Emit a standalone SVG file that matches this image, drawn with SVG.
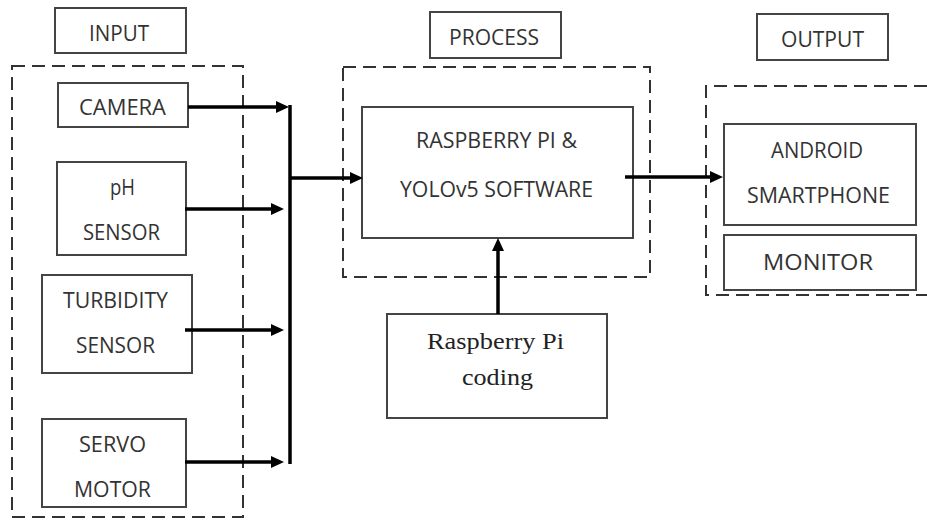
<svg xmlns="http://www.w3.org/2000/svg" width="927" height="520" viewBox="0 0 927 520">
<defs>
<marker id="ah" markerUnits="userSpaceOnUse" markerWidth="13" markerHeight="12" refX="4" refY="6" orient="auto">
<path d="M0,0 L13,6 L0,12 z" fill="#000"/>
</marker>
<style>
.box{fill:#fff;stroke:#444;stroke-width:2}
.dash{fill:none;stroke:#333;stroke-width:2;stroke-dasharray:13 7}
.t{font-family:"Open Sans","Liberation Sans",sans-serif;font-size:21px;fill:#333;text-anchor:middle}
.s{font-family:"Liberation Serif","DejaVu Serif",serif;font-size:23px;fill:#222;text-anchor:middle}
.c{stroke:#000;stroke-width:3.5;fill:none}
</style>
</defs>
<rect width="927" height="520" fill="#fff"/>
<g id="input-group">
<rect class="dash" x="12" y="66" width="231" height="451"/>
<g id="input-label"><rect class="box" x="55" y="8" width="131" height="45"/><text class="t" x="119" y="41" textLength="60" lengthAdjust="spacingAndGlyphs">INPUT</text></g>
<g id="camera"><rect class="box" x="58" y="83" width="130" height="44"/><text class="t" x="122.5" y="115" textLength="87" lengthAdjust="spacingAndGlyphs">CAMERA</text></g>
<g id="ph"><rect class="box" x="57" y="162" width="129" height="93"/><text class="t" x="122.5" y="195" textLength="25" lengthAdjust="spacingAndGlyphs">pH</text><text class="t" x="121.5" y="240" textLength="77" lengthAdjust="spacingAndGlyphs">SENSOR</text></g>
<g id="turbidity"><rect class="box" x="42" y="275" width="150" height="98"/><text class="t" x="115.5" y="308" textLength="105" lengthAdjust="spacingAndGlyphs">TURBIDITY</text><text class="t" x="115.5" y="353" textLength="79" lengthAdjust="spacingAndGlyphs">SENSOR</text></g>
<g id="servo"><rect class="box" x="42" y="419" width="144" height="88"/><text class="t" x="112.5" y="452" textLength="67" lengthAdjust="spacingAndGlyphs">SERVO</text><text class="t" x="112.5" y="497" textLength="77" lengthAdjust="spacingAndGlyphs">MOTOR</text></g>
</g>
<g id="process-group">
<rect class="dash" x="343" y="67" width="307" height="210"/>
<g id="process-label"><rect class="box" x="430" y="12" width="131" height="46"/><text class="t" x="494" y="45" textLength="90" lengthAdjust="spacingAndGlyphs">PROCESS</text></g>
<g id="raspberry"><rect class="box" x="362" y="107" width="271" height="131"/><text class="t" x="496.5" y="148" textLength="161" lengthAdjust="spacingAndGlyphs">RASPBERRY PI &amp;</text><text class="t" x="496.5" y="197" textLength="193" lengthAdjust="spacingAndGlyphs">YOLOv5 SOFTWARE</text></g>
</g>
<g id="coding"><rect class="box" x="387" y="314" width="220" height="104"/><text class="s" x="495.5" y="349" textLength="137" lengthAdjust="spacingAndGlyphs">Raspberry Pi</text><text class="s" x="497.5" y="385" textLength="71" lengthAdjust="spacingAndGlyphs">coding</text></g>
<g id="output-group">
<path class="dash" d="M927,86 H706 V295 H927"/>
<g id="output-label"><rect class="box" x="757" y="14" width="131" height="46"/><text class="t" x="822.5" y="47" textLength="83" lengthAdjust="spacingAndGlyphs">OUTPUT</text></g>
<g id="android"><rect class="box" x="724" y="124" width="192" height="101"/><text class="t" x="817" y="158" textLength="92" lengthAdjust="spacingAndGlyphs">ANDROID</text><text class="t" x="818.5" y="203" textLength="143" lengthAdjust="spacingAndGlyphs">SMARTPHONE</text></g>
<g id="monitor"><rect class="box" x="724" y="235" width="192" height="55"/><text class="t" x="818" y="270" textLength="110" lengthAdjust="spacingAndGlyphs">MONITOR</text></g>
</g>
<g id="connectors">
<line class="c" x1="188" y1="107" x2="280" y2="107" marker-end="url(#ah)"/>
<line class="c" x1="185" y1="209" x2="275" y2="209" marker-end="url(#ah)"/>
<line class="c" x1="185" y1="330" x2="275" y2="330" marker-end="url(#ah)"/>
<line class="c" x1="185" y1="462" x2="275" y2="462" marker-end="url(#ah)"/>
<line class="c" x1="290" y1="105" x2="290" y2="464"/>
<line class="c" x1="290" y1="178" x2="354" y2="178" marker-end="url(#ah)"/>
<line class="c" x1="625" y1="177" x2="714" y2="177" marker-end="url(#ah)"/>
<line class="c" x1="498" y1="314" x2="498" y2="247" marker-end="url(#ah)"/>
</g>
</svg>
